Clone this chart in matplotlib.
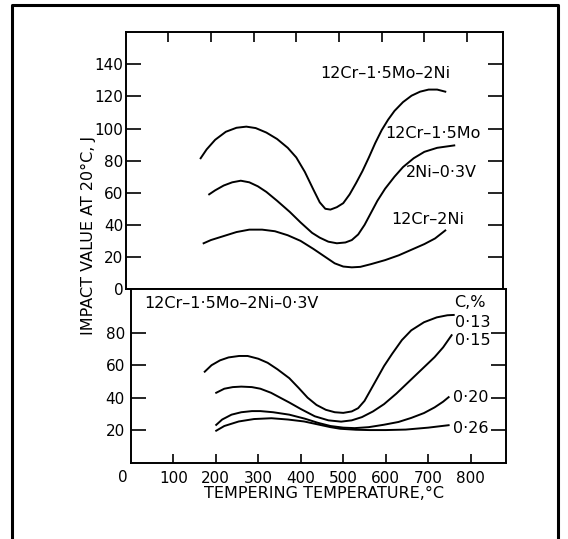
import matplotlib.pyplot as plt
from matplotlib.lines import Line2D

plt.rcParams['font.family'] = ['DejaVu Sans']

# upper panel, impact value (J) vs tempering temperature (C)
x_mo_ni = [176, 190, 210, 235, 260, 283, 305, 330, 355, 380, 400, 420, 440, 455, 468,
           480, 495, 510, 525, 540, 555, 570, 585, 600, 615, 630, 650, 670, 690, 710, 730, 749]
y_mo_ni = [81.5, 87, 93, 98, 100.5, 101.2, 100.3, 97.5, 93.5, 88, 82, 73, 62, 54, 50,
           49.5, 51, 53.5, 59, 66, 73.5, 82, 91, 99, 105.5, 111, 116.5, 120.5, 123, 124.3, 124.3, 123]

x_mo_v = [196, 210, 230, 250, 270, 290, 310, 330, 355, 385, 410, 437, 455, 475,
          495, 515, 530, 545, 560, 575, 590, 608, 630, 650, 675, 700, 730, 770]
y_mo_v = [59, 61.5, 64.5, 66.5, 67.5, 66.5, 64, 60.5, 55, 48, 41.5, 35, 32, 29.5,
          28.5, 29, 30.5, 34, 40, 47.5, 55, 62.5, 70, 76, 81.5, 85.5, 88, 89.5]

x_ni = [183, 200, 230, 260, 290, 320, 350, 380, 410, 440, 465, 490, 510, 530,
        550, 575, 608, 640, 670, 700, 725, 749]
y_ni = [28.5, 30.5, 33, 35.5, 37, 37, 36, 33.5, 30, 25, 20.5, 16, 14, 13.5,
        13.8, 15.5, 18, 21, 24.5, 28, 31.5, 36.5]

# lower panel, 12Cr-1.5Mo-2Ni-0.3V at different carbon contents
x_c13 = [174, 190, 210, 230, 255, 275, 300, 322, 345, 373, 395, 416, 437, 459, 480,
         500, 520, 535, 550, 565, 580, 596, 615, 638, 660, 690, 720, 745, 760]
y_c13 = [56, 60, 63, 64.8, 65.7, 65.7, 64, 61.5, 57.5, 52, 46, 40, 35.5, 32.5, 31,
         30.6, 31.5, 33.5, 38, 45, 52, 59.5, 67, 75.5, 81.5, 86.5, 89.5, 90.8, 91]
x_c15 = [201, 220, 240, 260, 285, 305, 330, 355, 373, 400, 433, 465, 495, 520,
         544, 570, 596, 625, 655, 685, 715, 735, 755]
y_c15 = [43, 45.5, 46.5, 46.8, 46.5, 45.5, 43, 39.5, 37, 33, 28.5, 26, 25.2, 26,
         28, 31.5, 36, 42.5, 50, 57.5, 65, 71, 78.5]
x_c20 = [201, 215, 237, 260, 285, 305, 335, 373, 410, 440, 470, 500, 527, 560,
         596, 630, 660, 690, 715, 735, 748]
y_c20 = [23.2, 26.5, 29.5, 31, 31.7, 31.7, 31, 29.5, 27, 24.5, 22.5, 21.5, 21.2, 21.8,
         23.3, 25, 27.5, 30.5, 34, 37.5, 40.3]
x_c26 = [201, 220, 254, 290, 331, 370, 408, 440, 470, 493, 530, 561, 600, 647, 700, 748]
y_c26 = [19.6, 22.5, 25.3, 26.8, 27.3, 26.5, 25.3, 23.5, 21.8, 20.8, 20.2, 20, 20, 20.3, 21.5, 23]

xticks = [100, 200, 300, 400, 500, 600, 700, 800]
up_yticks = [0, 20, 40, 60, 80, 100, 120, 140]
lo_yticks = [20, 40, 60, 80]

W, H = 568, 539
fig = plt.figure(figsize=(W / 100, H / 100), dpi=100)

def box(l, r, t, b):
    return [l / W, 1 - b / H, (r - l) / W, (b - t) / H]

ax1 = fig.add_axes(box(125.5, 502.5, 31.5, 289))
ax2 = fig.add_axes(box(130.8, 506, 289, 462.5))

lw = 1.4
for ax in (ax1, ax2):
    for s in ax.spines.values():
        s.set_linewidth(lw)
    ax.set_xlim(0, 883)

# upper
ax1.plot(x_mo_ni, y_mo_ni, color='k', lw=lw)
ax1.plot(x_mo_v, y_mo_v, color='k', lw=lw)
ax1.plot(x_ni, y_ni, color='k', lw=lw)
ax1.set_ylim(0, 160.5)
ax1.set_yticks(up_yticks)
ax1.set_yticklabels([str(v) for v in up_yticks], fontsize=11)
ax1.set_xticks(xticks)
ax1.tick_params(axis='y', direction='in', length=10.8, width=1.2, pad=1.5,
                left=True, right=True)
ax1.tick_params(axis='x', direction='in', length=7.2, width=1.2,
                top=True, bottom=False, labelbottom=False)

ax1.text(608, 134.5, '12Cr–1·5Mo–2Ni', fontsize=11.5, ha='center', va='center')
ax1.text(721, 97, '12Cr–1·5Mo', fontsize=11.5, ha='center', va='center')
ax1.text(740, 72.5, '2Ni–0·3V', fontsize=11.5, ha='center', va='center')
ax1.text(709, 43.5, '12Cr–2Ni', fontsize=11.5, ha='center', va='center')

# lower
for xs, ys in [(x_c13, y_c13), (x_c15, y_c15), (x_c20, y_c20), (x_c26, y_c26)]:
    ax2.plot(xs, ys, color='k', lw=lw)
ax2.set_ylim(0, 107)
ax2.set_yticks(lo_yticks)
ax2.set_yticklabels([str(v) for v in lo_yticks], fontsize=11)
ax2.set_xticks(xticks)
ax2.set_xticklabels([str(v) for v in xticks], fontsize=11)
ax2.tick_params(axis='y', direction='in', length=10.8, width=1.2, pad=4.3,
                left=True, right=True)
ax2.tick_params(axis='x', direction='in', length=6.8, width=1.2, pad=6.0)
ax2.text(-18, -9, '0', fontsize=11, ha='center', va='center')

ax2.text(238, 97.8, '12Cr–1·5Mo–2Ni–0·3V', fontsize=11.5, ha='center', va='center')
ax2.text(797, 98.6, 'C,%', fontsize=11.5, ha='center', va='center')
ax2.text(805, 86.3, '0·13', fontsize=11.5, ha='center', va='center')
ax2.text(805, 75, '0·15', fontsize=11.5, ha='center', va='center')
ax2.text(801, 40.2, '0·20', fontsize=11.5, ha='center', va='center')
ax2.text(800, 20.7, '0·26', fontsize=11.5, ha='center', va='center')

fig.text(88 / W, 1 - 235 / H, 'IMPACT VALUE AT 20°C, J', rotation=90,
         fontsize=11.5, ha='center', va='center')
fig.text(324 / W, 1 - 493.3 / H, 'TEMPERING TEMPERATURE,°C',
         fontsize=11.5, ha='center', va='center')

# outer frame, open at the bottom
bx = [11.7 / W, 11.7 / W, 558 / W, 558 / W]
by = [0, 1 - 5 / H, 1 - 5 / H, 0]
fig.add_artist(Line2D(bx, by, color='k', lw=2.2, transform=fig.transFigure))

fig.savefig('out.png', dpi=100)
